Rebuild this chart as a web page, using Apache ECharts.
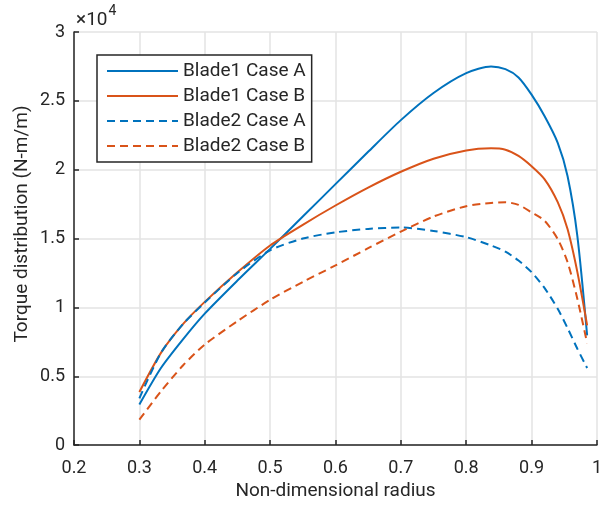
<!DOCTYPE html>
<html>
<head>
<meta charset="utf-8">
<script src="https://cdn.jsdelivr.net/npm/echarts@6/dist/echarts.min.js"></script>
<style>
html,body{margin:0;padding:0;background:#fff;}
#c{width:605px;height:506px;}
</style>
</head>
<body>
<div id="c"></div>
<script>
// Non-dimensional radius (shared x positions)
const radius = [0.3, 0.333, 0.367, 0.4, 0.45, 0.5, 0.55, 0.6, 0.65, 0.7, 0.75, 0.8, 0.838, 0.86, 0.88, 0.9, 0.92, 0.94, 0.955, 0.97, 0.985];
// Torque distribution (N-m/m)
const blade1CaseA = [2950, 5600, 7700, 9550, 11950, 14250, 16600, 18950, 21300, 23600, 25570, 27010, 27500, 27300, 26700, 25450, 23880, 21950, 19540, 15200, 7970];
const blade1CaseB = [3850, 6700, 8800, 10400, 12550, 14500, 16000, 17400, 18700, 19850, 20800, 21400, 21550, 21450, 21000, 20250, 19300, 17640, 15690, 12580, 8700];
const blade2CaseA = [3400, 6700, 8800, 10350, 12500, 14150, 15000, 15450, 15700, 15800, 15550, 15100, 14500, 14050, 13400, 12560, 11400, 9900, 8500, 7000, 5600];
const blade2CaseB = [1850, 3900, 5800, 7300, 9000, 10550, 11850, 13050, 14300, 15500, 16600, 17350, 17580, 17640, 17450, 16900, 16290, 14960, 13300, 10630, 7400];
const seriesNames = ['Blade1 Case A', 'Blade1 Case B', 'Blade2 Case A', 'Blade2 Case B'];
const xTicks = [0.2, 0.3, 0.4, 0.5, 0.6, 0.7, 0.8, 0.9, 1.0];
const yTicks = [0, 5000, 10000, 15000, 20000, 25000, 30000];

const BLUE = '#0072BD', ORANGE = '#D95319', INK = '#262626', GRID = '#e3e3e3';
const FONT = 'Roboto';

function pairs(ys){ return radius.map((x,i)=>[x, ys[i]]); }
function mk(name, ys, color, dashed){
  return {
    name: name, type: 'line', data: pairs(ys), symbol: 'none', smooth: 0.25,
    lineStyle: {color: color, width: 2, type: dashed ? [8,5] : 'solid'},
    itemStyle: {color: color}, z: 3
  };
}

const chart = echarts.init(document.getElementById('c'), null, {renderer:'canvas'});
chart.setOption({
  animation: false,
  backgroundColor: '#fff',
  title: {
    text: '{a|×10}{b|4}', left: 76, top: 4, padding: 0,
    textStyle: {
      fontFamily: FONT, fontSize: 19, fontWeight: 'normal', color: INK,
      rich: {
        a: {fontFamily: FONT, fontSize: 19, fontWeight: 'normal', color: INK, lineHeight: 26, verticalAlign: 'bottom'},
        b: {fontFamily: FONT, fontSize: 14, fontWeight: 'normal', color: INK, lineHeight: 26, verticalAlign: 'top', padding: [0,0,0,1]}
      }
    }
  },
  grid: {left: 74, right: 2, top: 32, bottom: 59, containLabel: false},
  xAxis: {
    type: 'value', min: xTicks[0], max: xTicks[xTicks.length-1], interval: 0.1,
    name: 'Non-dimensional radius', nameLocation: 'middle', nameGap: 33,
    nameTextStyle: {fontFamily: FONT, fontSize: 19, color: INK},
    axisLine: {show: true, onZero: false, lineStyle: {color: INK, width: 1.5}},
    axisTick: {show: true, inside: true, length: 5, lineStyle: {color: INK, width: 1.5}},
    axisLabel: {fontFamily: FONT, fontSize: 18, color: INK, margin: 14,
      formatter: v => String(+v.toFixed(1))},
    splitLine: {show: true, lineStyle: {color: GRID, width: 1.5}}
  },
  yAxis: {
    type: 'value', min: yTicks[0], max: yTicks[yTicks.length-1], interval: 5000,
    axisLine: {show: true, lineStyle: {color: INK, width: 1.5}},
    axisTick: {show: true, inside: true, length: 5, lineStyle: {color: INK, width: 1.5}},
    axisLabel: {fontFamily: FONT, fontSize: 18, color: INK, margin: 9,
      formatter: v => String(+(v/1e4).toFixed(1))},
    splitLine: {show: true, lineStyle: {color: GRID, width: 1.5}}
  },
  legend: {
    orient: 'vertical', left: 97, top: 55,
    data: seriesNames,
    itemStyle: {opacity: 0, color: 'rgba(0,0,0,0)', borderWidth: 0},
    backgroundColor: '#fff', borderColor: INK, borderWidth: 1.5,
    padding: [6, 6, 6, 9],
    itemWidth: 71, itemHeight: 20, itemGap: 5,
    textStyle: {fontFamily: FONT, fontSize: 19, color: INK, lineHeight: 20}
  },
  graphic: [
    {type: 'text', x: 22, y: 224, rotation: Math.PI/2,
      style: {text: 'Torque distribution (N-m/m)', font: '19px Roboto', fill: INK,
        textAlign: 'center', textVerticalAlign: 'middle'}}
  ],
  series: [
    mk(seriesNames[0], blade1CaseA, BLUE, false),
    mk(seriesNames[1], blade1CaseB, ORANGE, false),
    mk(seriesNames[2], blade2CaseA, BLUE, true),
    mk(seriesNames[3], blade2CaseB, ORANGE, true)
  ]
});
</script>
</body>
</html>
